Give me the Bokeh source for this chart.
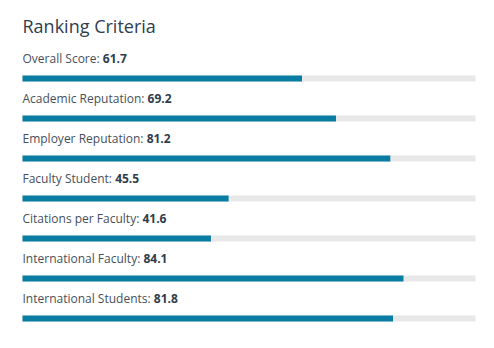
import subprocess
from bokeh.plotting import figure
from bokeh.models import Range1d, ColumnDataSource
from bokeh.core.properties import value
from bokeh.embed import file_html
from bokeh.resources import INLINE

criteria = ["Overall Score", "Academic Reputation", "Employer Reputation",
            "Faculty Student", "Citations per Faculty", "International Faculty",
            "International Students"]
scores = [61.7, 69.2, 81.2, 45.5, 41.6, 84.1, 81.8]
title_text = "Ranking Criteria"

W, H = 494, 348
LEFT, RIGHT = 22, 475
PX = (RIGHT - LEFT) / 100.0
ROW = 40.0
FONT = "Open Sans"
LABEL_SIZE = 12


def measure(text, bold=False, size=LABEL_SIZE):
    try:
        from PIL import ImageFont
        pattern = FONT + (":bold" if bold else "")
        path = subprocess.run(["fc-match", "-f", "%{file}", pattern],
                              capture_output=True, text=True).stdout.strip()
        f = ImageFont.truetype(path, size)
        return f.getlength(text)
    except Exception:
        return len(text) * size * 0.53


p = figure(width=W, height=H, output_backend="svg", toolbar_location=None,
           x_range=Range1d(-LEFT / PX, (W - LEFT) / PX),
           y_range=Range1d((H - 78) / ROW, -78 / ROW),
           min_border=0, outline_line_color=None)
p.axis.visible = False
p.grid.visible = False
p.background_fill_color = "white"
p.border_fill_color = "white"

idx = list(range(len(criteria)))
names = [c + ": " for c in criteria]
vals = [f"{s:.1f}" for s in scores]
val_x = [measure(n) / PX for n in names]
src = ColumnDataSource(dict(y=idx, score=scores, full=[100] * len(idx),
                            name=names, val=vals, vx=val_x,
                            ly=[i - 0.5 for i in idx],
                            zero=[0] * len(idx)))

p.hbar(y="y", left=0, right="full", height=0.15, source=src,
       fill_color="#e8e8e8", line_color=None)
p.hbar(y="y", left=0, right="score", height=0.15, source=src,
       fill_color="#087ca3", line_color=None)

p.text(x="zero", y="ly", text="name", source=src,
       text_font=value(FONT), text_font_size="12px", text_color="#46505a",
       text_baseline="alphabetic", text_align="left")
p.text(x="vx", y="ly", text="val", source=src,
       text_font=value(FONT), text_font_size="12px", text_font_style="bold",
       text_color="#2f3d4c", text_baseline="alphabetic", text_align="left")

p.text(x=[0], y=[-1.32], text=[title_text], text_font=value(FONT),
       text_font_size="18px", text_color="#2f3e4f",
       text_baseline="alphabetic", text_align="left")

open("out.html", "w").write(file_html(p, INLINE))
